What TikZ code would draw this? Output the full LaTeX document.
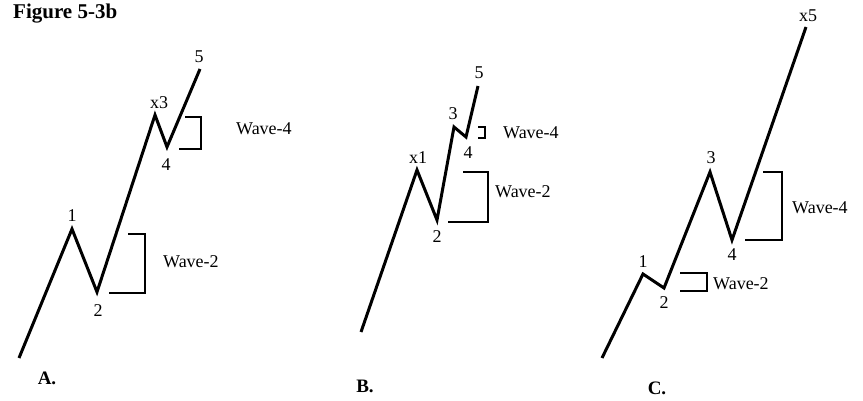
\documentclass[tikz,border=0pt]{standalone}
\usepackage{fontspec}
\setmainfont{Liberation Serif}
\begin{document}
\begin{tikzpicture}[x=1pt,y=-1pt,
  wave/.style={line width=3pt,line join=miter,line cap=butt},
  brk/.style={line width=1.9pt,line join=miter},
  lbl/.style={inner sep=0pt,font=\fontsize{18}{21}\selectfont},
  ttl/.style={inner sep=0pt,font=\fontsize{21}{24}\selectfont\bfseries},
  pnl/.style={inner sep=0pt,font=\fontsize{19}{22}\selectfont\bfseries}]
\useasboundingbox (0,0) rectangle (863,401);
% Title
\node[ttl,anchor=west] (title) at (13,14) {Figure 5-3b};
% ---------- Panel A ----------
\coordinate (a0) at (19,358);
\coordinate (a1) at (72,229);
\coordinate (a2) at (97,292);
\coordinate (a3) at (155,115);
\coordinate (a4) at (167,147);
\coordinate (a5) at (200,69);
\draw[wave] (a0) -- (a1) -- (a2) -- (a3) -- (a4) -- (a5);
\node[lbl] (la1) at (72,216) {1};
\node[lbl] (la2) at (98,311) {2};
\node[lbl] (la3) at (159,103) {x3};
\node[lbl] (la4) at (166,165) {4};
\node[lbl] (la5) at (199,57) {5};
\coordinate (ab2a) at (128,234);
\coordinate (ab2b) at (145,234);
\coordinate (ab2c) at (145,293);
\coordinate (ab2d) at (109,293);
\draw[brk] (ab2a) -- (ab2b) -- (ab2c) -- (ab2d);
\node[lbl,anchor=west] (aw2) at (163,262) {Wave-2};
\coordinate (ab4a) at (185,117);
\coordinate (ab4b) at (201,117);
\coordinate (ab4c) at (201,149);
\coordinate (ab4d) at (179,149);
\draw[brk] (ab4a) -- (ab4b) -- (ab4c) -- (ab4d);
\node[lbl,anchor=west] (aw4) at (236,129) {Wave-4};
\node[pnl] (pA) at (47,378) {A.};
% ---------- Panel B ----------
\coordinate (b0) at (361,332);
\coordinate (b1) at (417,170);
\coordinate (b2) at (437,220);
\coordinate (b3) at (454,127);
\coordinate (b4) at (466,137);
\coordinate (b5) at (478,86);
\draw[wave] (b0) -- (b1) -- (b2) -- (b3) -- (b4) -- (b5);
\node[lbl] (lb1) at (418,158) {x1};
\node[lbl] (lb2) at (437,237) {2};
\node[lbl] (lb3) at (453,114) {3};
\node[lbl] (lb4) at (468,153) {4};
\node[lbl] (lb5) at (479,73) {5};
\coordinate (bb2a) at (463,172);
\coordinate (bb2b) at (488,172);
\coordinate (bb2c) at (488,222);
\coordinate (bb2d) at (448,222);
\draw[brk] (bb2a) -- (bb2b) -- (bb2c) -- (bb2d);
\node[lbl,anchor=west] (bw2) at (495,192) {Wave-2};
\coordinate (bb4a) at (478,127);
\coordinate (bb4b) at (485,127);
\coordinate (bb4c) at (485,138);
\coordinate (bb4d) at (478,138);
\draw[brk] (bb4a) -- (bb4b) -- (bb4c) -- (bb4d);
\node[lbl,anchor=west] (bw4) at (503,133) {Wave-4};
\node[pnl] (pB) at (365,386) {B.};
% ---------- Panel C ----------
\coordinate (c0) at (602,358);
\coordinate (c1) at (643,274);
\coordinate (c2) at (664,288);
\coordinate (c3) at (710,172);
\coordinate (c4) at (732,240);
\coordinate (c5) at (806,27);
\draw[wave] (c0) -- (c1) -- (c2) -- (c3) -- (c4) -- (c5);
\node[lbl] (lc1) at (643,262) {1};
\node[lbl] (lc2) at (664,303) {2};
\node[lbl] (lc3) at (711,158) {3};
\node[lbl] (lc4) at (732,255) {4};
\node[lbl] (lc5) at (808,16) {x5};
\coordinate (cb2a) at (680,273);
\coordinate (cb2b) at (707,273);
\coordinate (cb2c) at (707,291);
\coordinate (cb2d) at (680,291);
\draw[brk] (cb2a) -- (cb2b) -- (cb2c) -- (cb2d);
\node[lbl,anchor=west] (cw2) at (713,284) {Wave-2};
\coordinate (cb4a) at (763,172);
\coordinate (cb4b) at (782,172);
\coordinate (cb4c) at (782,240);
\coordinate (cb4d) at (745,240);
\draw[brk] (cb4a) -- (cb4b) -- (cb4c) -- (cb4d);
\node[lbl,anchor=west] (cw4) at (792,208) {Wave-4};
\node[pnl] (pC) at (657,388) {C.};
\end{tikzpicture}
\end{document}
